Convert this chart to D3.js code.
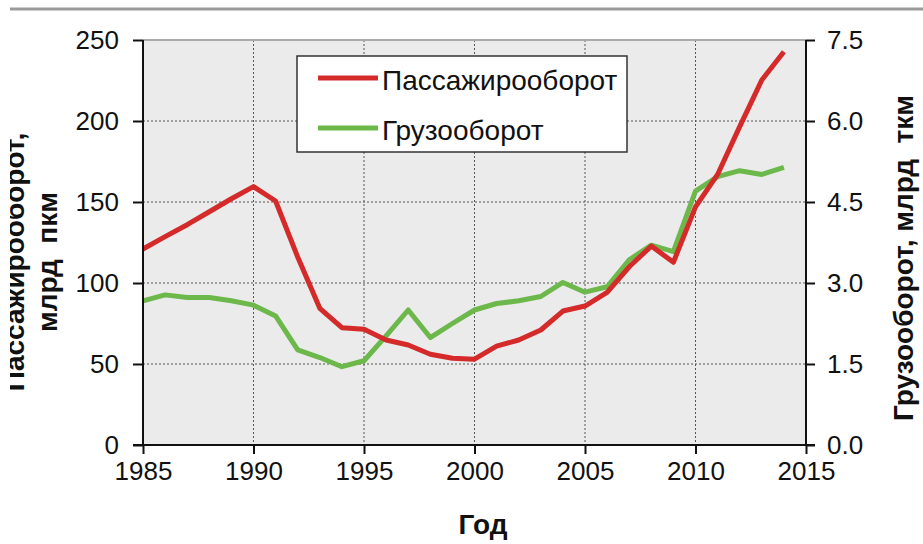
<!DOCTYPE html>
<html><head><meta charset="utf-8">
<script src="https://cdn.jsdelivr.net/npm/d3@7"></script>
<style>body{margin:0;background:#fff}svg{display:block}text{font-family:"Liberation Sans",Arial,sans-serif;fill:#111}</style>
</head><body><svg id="c" width="923" height="544"></svg>
<script>
const years = d3.range(1985, 2015);
const passenger = [121,128.6,136,144,152,159.5,150.6,116,84.4,72.4,71.4,64.8,61.7,56,53.5,53,61,64.8,71,82.7,85.8,94.2,110,122.8,112.8,147,167,196.5,225.3,242.8];
const freight = [2.67,2.78,2.73,2.73,2.67,2.59,2.39,1.76,1.62,1.45,1.56,2.02,2.5,1.99,2.25,2.5,2.62,2.67,2.75,3.01,2.83,2.93,3.43,3.70,3.58,4.70,4.97,5.08,5.01,5.14];
const xTicks = [1985,1990,1995,2000,2005,2010,2015];
const leftTicks = [0,50,100,150,200,250];
const rightTicks = [0,1.5,3,4.5,6,7.5];
const seriesNames = ["Пассажирооборот","Грузооборот"];
const colors = ["#d42a2a","#6cb84b"];

const svg = d3.select("#c");
const L=143,R=806,T=40,B=445;
const x = d3.scaleLinear().domain([1985,2015]).range([L,R]);
const yL = d3.scaleLinear().domain([0,250]).range([B,T]);
const yR = d3.scaleLinear().domain([0,7.5]).range([B,T]);

svg.append("line").attr("x1",10).attr("x2",923).attr("y1",9).attr("y2",9).attr("stroke","#9a9a9a").attr("stroke-width",3);
svg.append("rect").attr("x",L).attr("y",T).attr("width",R-L).attr("height",B-T).attr("fill","#ebebeb");

// grid
const g = svg.append("g");
xTicks.slice(1,-1).forEach(t=>g.append("line").attr("x1",x(t)).attr("x2",x(t)).attr("y1",T).attr("y2",B).attr("stroke","#555").attr("stroke-width",1).attr("stroke-dasharray","2,2"));
leftTicks.slice(1,-1).forEach(t=>g.append("line").attr("x1",L).attr("x2",R).attr("y1",yL(t)).attr("y2",yL(t)).attr("stroke","#555").attr("stroke-width",1).attr("stroke-dasharray","2,2"));
svg.append("line").attr("x1",L).attr("x2",R).attr("y1",T).attr("y2",T).attr("stroke","#aaa").attr("stroke-width",2);

// lines
const lineL = d3.line().x((d,i)=>x(years[i])).y(d=>yL(d));
const lineR = d3.line().x((d,i)=>x(years[i])).y(d=>yR(d));
svg.append("path").datum(freight).attr("d",lineR).attr("fill","none").attr("stroke",colors[1]).attr("stroke-width",5).attr("stroke-linejoin","round");
svg.append("path").datum(passenger).attr("d",lineL).attr("fill","none").attr("stroke",colors[0]).attr("stroke-width",5).attr("stroke-linejoin","round");

// axes
const fs = 26;
const ax = svg.append("g").attr("transform",`translate(0,${B})`).call(d3.axisBottom(x).tickValues(xTicks).tickFormat(d3.format("d")).tickSize(9).tickPadding(8));
const al = svg.append("g").attr("transform",`translate(${L},0)`).call(d3.axisLeft(yL).tickValues(leftTicks).tickSize(10).tickPadding(14));
const ar = svg.append("g").attr("transform",`translate(${R},0)`).call(d3.axisRight(yR).tickValues(rightTicks).tickFormat(d3.format(".1f")).tickSize(9).tickPadding(12));
[ax,al,ar].forEach(a=>{a.select(".domain").attr("stroke","#111").attr("stroke-width",2);a.selectAll(".tick line").attr("stroke","#111").attr("stroke-width",2);a.selectAll("text").style("font-size",fs+"px").style("font-family","Liberation Sans, Arial, sans-serif").attr("fill","#111");});
al.select(".domain").attr("d",`M${-10},${B}H0V${T}`);
ar.select(".domain").attr("d",`M${0},${T}V${B}`);
ax.select(".domain").attr("d",`M${L-10},0H${R+9}`);

// titles
const tfs = "28px";
svg.append("text").attr("x",483).attr("y",534).attr("text-anchor","middle").style("font-size",tfs).style("font-weight","bold").text("Год");
svg.append("text").attr("transform","translate(913,258) rotate(-90)").attr("text-anchor","middle").style("font-size",tfs).style("font-weight","bold").style("white-space","pre").text("Грузооборот, млрд  ткм");
svg.append("text").attr("transform","translate(24,262) rotate(-90)").attr("text-anchor","middle").style("font-size",tfs).style("font-weight","bold").text("Пассажирооборот,");
svg.append("rect").attr("x",0).attr("y",100).attr("width",10).attr("height",320).attr("fill","#fff");
svg.append("text").attr("transform","translate(57,262) rotate(-90)").attr("text-anchor","middle").style("font-size",tfs).style("font-weight","bold").style("white-space","pre").text("млрд  пкм");

// legend
const lg = svg.append("g");
lg.append("rect").attr("x",297).attr("y",56).attr("width",330).attr("height",96).attr("fill","#fff").attr("stroke","#333").attr("stroke-width",1.5);
seriesNames.forEach((n,i)=>{
  const yy = 78 + i*50;
  lg.append("line").attr("x1",318).attr("x2",378).attr("y1",yy).attr("y2",yy).attr("stroke",colors[i]).attr("stroke-width",5);
  lg.append("text").attr("x",382).attr("y",yy+12).style("font-size","28px").text(n);
});
</script></body></html>
